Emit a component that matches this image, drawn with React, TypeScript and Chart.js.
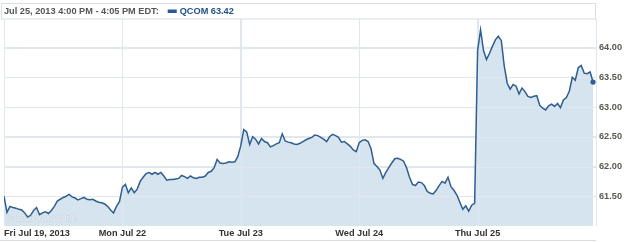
import React, { useEffect, useRef } from "react";
import { Chart, registerables } from "chart.js";

Chart.register(...registerables);

// ---- data ----
const dayLabels = ["Fri Jul 19, 2013", "Mon Jul 22", "Tue Jul 23", "Wed Jul 24", "Thu Jul 25"];

const friPrices = [
  61.5, 61.23, 61.33, 61.31, 61.3, 61.28, 61.27, 61.22, 61.15, 61.18,
  61.26, 61.31, 61.19, 61.22, 61.24, 61.21, 61.26, 61.33, 61.42, 61.45,
  61.48, 61.5, 61.53, 61.49, 61.47, 61.44, 61.46, 61.48, 61.45, 61.44,
  61.45, 61.42, 61.4, 61.39, 61.37, 61.33, 61.27, 61.22, 61.33, 61.41,
];
const monPrices = [
  61.65, 61.7, 61.56, 61.64, 61.56, 61.62, 61.75, 61.82, 61.88, 61.9,
  61.87, 61.9, 61.87, 61.9, 61.84, 61.77, 61.78, 61.78, 61.79, 61.8,
  61.85, 61.83, 61.8, 61.84, 61.81, 61.8, 61.82, 61.82, 61.84, 61.9,
  61.92, 61.98, 62.12, 62.06, 62.05, 62.06, 62.08, 62.07, 62.08, 62.17,
];
const tuePrices = [
  62.35, 62.62, 62.58, 62.37, 62.5, 62.46, 62.38, 62.47, 62.42, 62.4,
  62.33, 62.35, 62.38, 62.4, 62.55, 62.43, 62.41, 62.4, 62.38, 62.37,
  62.39, 62.42, 62.45, 62.47, 62.49, 62.53, 62.52, 62.49, 62.46, 62.42,
  62.5, 62.54, 62.52, 62.49, 62.41, 62.42, 62.38, 62.34, 62.28, 62.25,
];
const wedPrices = [
  62.4, 62.44, 62.45, 62.42, 62.3, 62.05, 62.0, 61.94, 61.8, 61.9,
  61.98, 62.06, 62.13, 62.14, 62.12, 62.09, 61.98, 61.82, 61.7, 61.68,
  61.74, 61.73, 61.68, 61.58, 61.55, 61.54, 61.6, 61.68, 61.75, 61.72,
  61.82, 61.66, 61.6, 61.52, 61.4, 61.28, 61.34, 61.25, 61.35, 61.38,
];
const thuPrices = [
  63.95, 64.3, 63.95, 63.8, 63.9, 64.02, 64.13, 64.19, 64.12, 63.69,
  63.4, 63.3, 63.38, 63.35, 63.22, 63.32, 63.26, 63.18, 63.16, 63.18,
  63.19, 63.03, 62.98, 62.95, 63.02, 63.05, 63.01, 63.06, 62.99, 63.12,
  63.16, 63.27, 63.5, 63.45, 63.66, 63.7, 63.57, 63.56, 63.59, 63.42,
];
const dayPrices = [friPrices, monPrices, tuePrices, wedPrices, thuPrices];

const yTicks = [61.5, 62, 62.5, 63, 63.5, 64];
const yMin = 61.0;
const yMax = 64.48;

const headerText = "Jul 25, 2013 4:00 PM - 4:05 PM EDT:";
const seriesLabel = "QCOM 63.42";
const watermark = "\u00a9 2013 Yahoo! Inc.";

// ---- styles ----
const LINE = "#2f5e90";
const FILL = "rgb(214,228,240)";
const GRID = "#e0e7ee";
const FONT = "'Liberation Sans', Arial, sans-serif";

export default function App() {
  const ref = useRef<HTMLCanvasElement | null>(null);

  useEffect(() => {
    const canvas = ref.current;
    if (!canvas) return;

    const points = dayPrices.flatMap((arr, d) =>
      arr.map((v, i) => ({ x: d + i / arr.length, y: v }))
    );
    const lastIdx = points.length - 1;

    const decor = {
      id: "decor",
      afterDatasetDraw(chart: any, args: any) {
        if (args.index !== 1) return;
        const { ctx, chartArea } = chart;
        const xs = chart.scales.x;
        const ys = chart.scales.y;
        ctx.save();
        ctx.strokeStyle = GRID;
        ctx.lineWidth = 1;
        ctx.beginPath();
        for (const t of yTicks) {
          const y = Math.round(ys.getPixelForValue(t)) + 0.5;
          ctx.moveTo(chartArea.left, y);
          ctx.lineTo(chartArea.right, y);
        }
        for (let d = 0; d <= dayLabels.length; d++) {
          const x = Math.round(xs.getPixelForValue(d)) + 0.5;
          ctx.moveTo(x, chartArea.top);
          ctx.lineTo(x, chartArea.bottom);
        }
        ctx.stroke();
        ctx.font = `8.2px ${FONT}`;
        ctx.textBaseline = "middle";
        ctx.textAlign = "left";
        ctx.strokeStyle = "rgba(170,185,198,0.45)";
        ctx.lineWidth = 0.8;
        ctx.strokeText(watermark, chartArea.left + 4, chartArea.bottom - 7);
        ctx.fillStyle = "#eef3f7";
        ctx.fillText(watermark, chartArea.left + 4, chartArea.bottom - 7);
        ctx.restore();
      },
      afterDraw(chart: any) {
        const { ctx, chartArea } = chart;
        ctx.save();
        ctx.strokeStyle = "#d6dde4";
        ctx.lineWidth = 1;
        ctx.strokeRect(1.5, 3.5, chartArea.right - 2, chartArea.top - 3.5);
        ctx.beginPath();
        ctx.moveTo(0, 240.5);
        ctx.lineTo(chartArea.right, 240.5);
        ctx.strokeStyle = "#d8dde2";
        ctx.stroke();
        ctx.font = `bold 9.2px ${FONT}`;
        ctx.textBaseline = "middle";
        ctx.textAlign = "left";
        ctx.fillStyle = "#565656";
        ctx.fillText(headerText, 4, 11.5);
        const w = ctx.measureText(headerText).width;
        ctx.fillStyle = "#2a5a8e";
        ctx.fillRect(4 + w + 9, 9.5, 9, 3.5);
        ctx.fillStyle = "#1f5089";
        ctx.fillText(seriesLabel, 4 + w + 21, 11.5);
        ctx.restore();
      },
    };

    const chart = new Chart(canvas, {
      type: "line",
      data: {
        datasets: [
          {
            data: points,
            borderColor: LINE,
            borderWidth: 1.5,
            fill: false,
            tension: 0,
            pointRadius: (c: any) => (c.dataIndex === lastIdx ? 2.6 : 0),
            pointBackgroundColor: LINE,
            pointBorderWidth: 0,
          },
          {
            data: points,
            borderWidth: 0,
            borderColor: "rgba(0,0,0,0)",
            backgroundColor: FILL,
            fill: "start",
            tension: 0,
            pointRadius: 0,
          },
        ],
      },
      options: {
        responsive: false,
        devicePixelRatio: 1,
        animation: false,
        layout: { padding: { left: 2, top: 19, right: 0, bottom: 0 } },
        plugins: { legend: { display: false }, tooltip: { enabled: false } },
        scales: {
          x: {
            type: "linear",
            min: 0,
            max: 5,
            afterBuildTicks: (s: any) => {
              s.ticks = [0, 1, 2, 3, 4, 5].map((v) => ({ value: v }));
            },
            afterFit: (s: any) => {
              s.height = 16;
            },
            grid: { color: GRID, drawTicks: false },
            border: { display: false },
            ticks: {
              callback: (v: any) => dayLabels[v] ?? "",
              align: "inner",
              autoSkip: false,
              maxRotation: 0,
              minRotation: 0,
              padding: 2,
              color: "#333333",
              font: { family: FONT, size: 9.2, weight: "bold" },
            },
          },
          y: {
            position: "right",
            min: yMin,
            max: yMax,
            afterBuildTicks: (s: any) => {
              s.ticks = yTicks.map((v) => ({ value: v }));
            },
            afterFit: (s: any) => {
              s.width = 29;
            },
            grid: { color: GRID, drawTicks: false },
            border: { display: false },
            ticks: {
              callback: (v: any) => Number(v).toFixed(2),
              padding: 3,
              color: "#5b5852",
              font: { family: FONT, size: 9.2, weight: "bold" },
            },
          },
        },
      },
      plugins: [decor],
    } as any);

    return () => chart.destroy();
  }, []);

  return (
    <div style={{ position: "absolute", left: 0, top: 0, width: 625, height: 242, background: "#fff" }}>
      <canvas ref={ref} width={625} height={242} style={{ display: "block" }} />
    </div>
  );
}
